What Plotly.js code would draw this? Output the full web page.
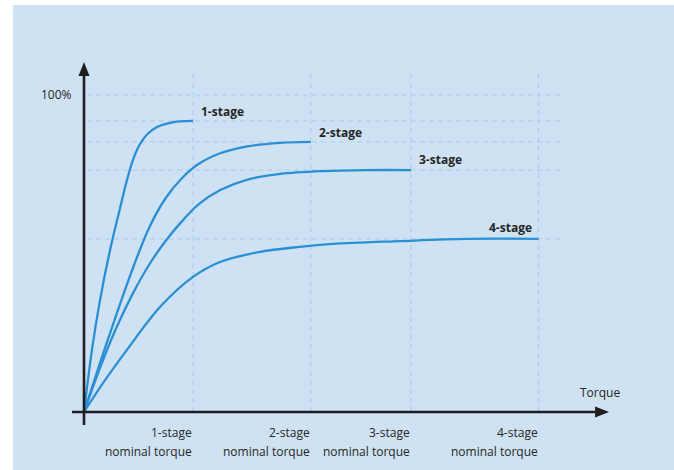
<!DOCTYPE html>
<html>
<head>
<meta charset="utf-8">
<script src="https://cdn.plot.ly/plotly-3.0.1.min.js"></script>
<style>
html,body{margin:0;padding:0;background:#ffffff;}
#chart{width:674px;height:470px;}
</style>
</head>
<body>
<div id="chart"></div>
<script>
// ---- data (torque in % of 1-stage nominal torque, efficiency in %) ----
const stages = ['1-stage', '2-stage', '3-stage', '4-stage'];
const nominalTorque = [100, 208, 300, 417];
const maxEfficiency = [91.8, 85.2, 76.3, 54.6];
const fullScale = 100;
const fullScaleLabel = '100%';
const tickLine2 = 'nominal torque';
const yTitle = 'Efficiency';
const xTitle = 'Torque';

const torque1 = [0, 7.3, 14.7, 23.9, 33.0, 39.0, 45.0, 51.0, 58.0, 67.0, 80.0, 100];
const eff1    = [0, 19.6, 35.3, 51.1, 64.2, 72.6, 79.6, 84.3, 87.6, 89.9, 91.3, 91.8];

const torque2 = [0, 15, 30, 45, 60, 75, 90, 105, 125, 150, 180, 208];
const eff2    = [0, 15.8, 31.0, 45.5, 58.3, 67.5, 73.8, 78.2, 81.6, 83.8, 84.9, 85.2];

const torque3 = [0, 15, 30, 45, 60, 75, 90, 105, 125, 150, 180, 220, 260, 300];
const eff3    = [0, 14.2, 26.8, 37.5, 46.6, 54.0, 60.2, 65.5, 70.0, 73.3, 75.1, 76.0, 76.3, 76.3];

const torque4 = [0, 17.4, 39.4, 69.7, 100, 124.8, 161.5, 198, 228, 290, 351, 417];
const eff4    = [0, 9.1, 19.6, 33.1, 42.6, 47.3, 50.5, 52.1, 53.0, 53.9, 54.6, 54.6];

const curvesX = [torque1, torque2, torque3, torque4];
const curvesY = [eff1, eff2, eff3, eff4];

// ---- styling ----
const BG = '#cfe2f3';
const LINE = '#2a8fd4';
const GRID = '#a6cbea';
const AXIS = '#1e1e1e';
const TXT = '#262626';
const FONT = 'Open Sans, Noto Sans, sans-serif';

const traces = curvesX.map((xs, i) => ({
  x: xs, y: curvesY[i], type: 'scatter', mode: 'lines',
  line: {color: LINE, width: 2.3, shape: 'spline', smoothing: 1.0},
  hoverinfo: 'skip', showlegend: false
}));

const shapes = [];
// background panel (white strip at left/top)
shapes.push({type: 'rect', xref: 'paper', yref: 'paper', layer: 'below',
  x0: -0.1036, x1: 1.1, y0: -0.11, y1: 1.1333, fillcolor: BG, line: {width: 0}});
// horizontal dashed guides
[fullScale].concat(maxEfficiency).forEach(v => shapes.push({
  type: 'line', xref: 'x', yref: 'y', layer: 'below', x0: 2.8, x1: 441, y0: v, y1: v,
  line: {color: GRID, width: 1, dash: '5px,4px'}
}));
// vertical dashed guides
nominalTorque.forEach(v => shapes.push({
  type: 'line', xref: 'x', yref: 'y', layer: 'below', x0: v, x1: v, y0: 0, y1: 107.3,
  line: {color: GRID, width: 1, dash: '5px,4px'}
}));
// axes
shapes.push({type: 'line', xref: 'x', yref: 'y', x0: -11, x1: 474, y0: 0, y1: 0,
  line: {color: AXIS, width: 2.6}});
shapes.push({type: 'line', xref: 'x', yref: 'y', x0: 0, x1: 0, y0: -4.1, y1: 106,
  line: {color: AXIS, width: 2.6}});
// arrow heads
shapes.push({type: 'path', xref: 'x', yref: 'y', xsizemode: 'pixel', ysizemode: 'pixel',
  xanchor: 0, yanchor: 110.4, path: 'M0,0 L-5.5,-14 L5.5,-14 Z',
  fillcolor: AXIS, line: {width: 0}});
shapes.push({type: 'path', xref: 'x', yref: 'y', xsizemode: 'pixel', ysizemode: 'pixel',
  xanchor: 481.7, yanchor: 0, path: 'M0,0 L-14,5.5 L-14,-5.5 Z',
  fillcolor: AXIS, line: {width: 0}});

const annotations = [];
// tick labels under the x axis
stages.forEach((s, i) => {
  annotations.push({x: nominalTorque[i], y: 0, xref: 'x', yref: 'y', text: s,
    showarrow: false, xanchor: 'right', yanchor: 'middle', xshift: 1, yshift: -21,
    font: {family: FONT, size: 12, color: TXT}});
  annotations.push({x: nominalTorque[i], y: 0, xref: 'x', yref: 'y', text: tickLine2,
    showarrow: false, xanchor: 'right', yanchor: 'middle', xshift: 1, yshift: -40,
    font: {family: FONT, size: 12, color: TXT}});
});
// curve labels
stages.forEach((s, i) => {
  const last = i === stages.length - 1;
  annotations.push({x: nominalTorque[i], y: maxEfficiency[i], xref: 'x', yref: 'y',
    text: '<b>' + s + '</b>', showarrow: false,
    xanchor: last ? 'right' : 'left', xshift: last ? -5 : 6,
    yanchor: 'middle', yshift: i < 2 ? 9 : 11,
    font: {family: FONT, size: 12, color: TXT}});
});
// 100 % label
annotations.push({x: 0, y: fullScale, xref: 'x', yref: 'y', text: fullScaleLabel,
  showarrow: false, xanchor: 'right', yanchor: 'middle', xshift: -10,
  font: {family: FONT, size: 12, color: TXT}});
// axis titles
annotations.push({x: 0, y: 116.7, xref: 'x', yref: 'y', text: yTitle,
  showarrow: false, xanchor: 'center', yanchor: 'middle', xshift: -4,
  font: {family: FONT, size: 12, color: TXT}});
annotations.push({x: 473.4, y: 6, xref: 'x', yref: 'y', text: xTitle,
  showarrow: false, xanchor: 'center', yanchor: 'middle',
  font: {family: FONT, size: 12, color: TXT}});

const layout = {
  width: 674, height: 470,
  margin: {l: 70, r: 54, t: 55, b: 40, pad: 0},
  paper_bgcolor: '#ffffff', plot_bgcolor: 'rgba(0,0,0,0)',
  xaxis: {range: [-12.84, 491.7], visible: false, fixedrange: true},
  yaxis: {range: [-5.68, 112.6], visible: false, fixedrange: true},
  shapes: shapes, annotations: annotations, showlegend: false,
  font: {family: FONT, color: TXT}
};

Plotly.newPlot('chart', traces, layout, {displayModeBar: false, staticPlot: true});
</script>
</body>
</html>
